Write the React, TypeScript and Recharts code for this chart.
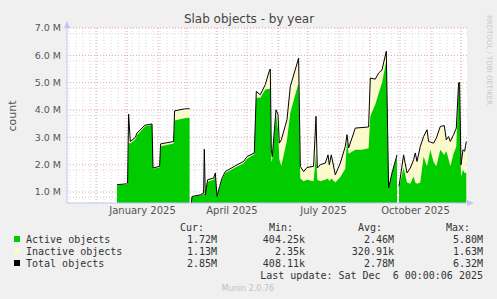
import { Area, CartesianGrid, ComposedChart, Line, XAxis, YAxis } from "recharts";

// x = days since 2 Nov 2024 (graph spans 400 days up to 6 Dec 2025); values in millions
const days = [
    50, 59.3, 60.6, 61.6, 63.3, 68.3, 70, 75, 77.6, 85, 86, 92.6, 93.6, 106.6, 107.6, 117.3, 122.6, 123.6,
    124, 125, 133.3, 136.6, 137.3, 138.3, 140.6, 146.6, 148.3, 150, 152.6, 155, 158.3, 168.3, 176.6, 180,
    187.3, 189.3, 193.3, 198.3, 202.6, 203.3, 204.3, 205.3, 209, 211, 212.3, 214.3, 220, 223.3, 231.6, 233.3,
    236.6, 240, 246.6, 249, 250.3, 253.3, 258.3, 261, 262.3, 264.3, 268.3, 273.3, 278.3, 280, 281.6, 288.3,
    295, 301.6, 303.3, 308.3, 311.6, 315, 319.3, 321.6, 325, 330, 331, 332, 336.6, 340, 343.3, 346.6, 348.3,
    350, 353.3, 356.6, 360, 361.6, 363.3, 366.6, 369.3, 373.3, 377.3, 379.3, 381.6, 383.3, 386.6, 389.3,
    391.6, 392.6, 394, 396, 397.6, 399.3,
];
const activeObjects = [
    1.25, 1.28, 1.3, 2.8, 2.78, 2.93, 3.08, 3.28, 3.4, 3.45, 1.85, 1.9, 2.68, 2.78, 3.62, 3.7, 3.72, null,
    0.44, 0.82, 0.88, 0.93, 0.95, 0.88, 1.38, 1.45, 1.6, 0.82, 1.15, 1.45, 1.7, 1.9, 2.05, 2.22,
    2.38, 4.45, 4.45, 4.75, 4.78, 4.8, 2.1, 2.2, 3.85, 3.3, 2.2, 1.95, 2.9, 3.9, 5.0, 1.5,
    1.4, 1.45, 1.4, 2.4, 1.45, 1.4, 1.45, 1.5, 1.4, 1.5, 1.35, 1.55, 1.85, 2.9, 2.4, 2.55,
    2.55, 2.6, 3.77, 4.2, 4.6, 5.0, 5.8, 1.12, 1.68, 2.3, null, 1.15, 1.9, 1.35, 1.3, 1.57, 1.35,
    1.3, 1.35, 2.3, 1.94, 2.2, 2.55, 2.1, 1.94, 2.55, 2.36, 2.5, 2.2, 1.94, 2.4, 2.67,
    4.86, 4.8, 1.57, 1.82, 1.7, 1.72,
];
const inactiveObjects = [
    0.02, 0.02, 0.03, 1.05, 0.07, 0.07, 0.08, 0.06, 0.04, 0.04, 0.03, 0.04, 0.08, 0.07, 0.35, 0.34, 0.33, null,
    0.01, 0.02, 0.02, 0.03, 1.62, 0.02, 0.07, 0.06, 0.1, 0.02, 0.05, 0.06, 0.05, 0.06, 0.07, 0.08,
    0.05, 0.23, 0.11, 0.18, 0.69, 0.7, 0.45, 0.1, 0.16, 0.53, 0.59, 0.96, 0.75, 0.96, 0.9, 0.44,
    0.35, 0.45, 0.54, 1.37, 0.43, 0.6, 0.61, 0.86, 0.6, 0.86, 0.28, 0.51, 0.82, 0.2, 0.21, 0.79,
    0.81, 0.78, 1.4, 0.93, 0.75, 0.47, 0.35, 0.03, 0.02, 0.06, null, 0.05, 0.46, 0.35, 0.58, 0.61, 1.08,
    0.82, 1.32, 0.73, 1.34, 0.65, 0.28, 0.69, 1.03, 0.85, 1.07, 0.41, 0.83, 0.91, 0.7, 0.67,
    0.13, 0.21, 0.43, 0.73, 0.79, 1.13,
];

const monthLabels = ["January 2025", "April 2025", "July 2025", "October 2025"];
const monthLabelPos = [75.5, 165, 256.5, 348.5];
const monthStarts = [29, 60, 91, 119, 150, 180, 211, 241, 272, 303, 333, 364, 394];
const yTicks = [1e6, 2e6, 3e6, 4e6, 5e6, 6e6, 7e6];

const legendRows = [
    { name: "Active objects", color: "#00cc00", cur: "1.72M", min: "404.25k", avg: "2.46M", max: "5.80M" },
    { name: "Inactive objects", color: "#fcfacc", cur: "1.13M", min: "2.35k", avg: "320.91k", max: "1.63M" },
    { name: "Total objects", color: "#000000", cur: "2.85M", min: "408.11k", avg: "2.78M", max: "6.32M" },
];

const data = days.map((day, i) => {
    const a = activeObjects[i];
    const b = inactiveObjects[i];
    return {
        day,
        active: a == null ? null : a * 1e6,
        total: a == null || b == null ? null : (a + b) * 1e6,
    };
});

const minorY: number[] = [];
for (let v = 0.8; v < 7; v += 0.2) {
    if (Math.abs(v - Math.round(v)) > 0.05) minorY.push(Math.round(v * 10) * 1e5);
}
const minorX: number[] = [];
for (let d = 2; d < 400; d += 7) minorX.push(d);

const axisColor = "#c4c4f4";
const textColor = "#555";

export default function App() {
    return (
        <div style={{ position: "fixed", left: 0, top: 0, width: 497, height: 299, background: "#f0f0f0" }}>
            <ComposedChart width={497} height={299} data={data} margin={{ top: 28, right: 30, bottom: 76, left: 7 }}>
                <CartesianGrid
                    fill="#ffffff"
                    stroke="#d8d8d8"
                    strokeDasharray="1 2"
                    horizontalValues={minorY}
                    verticalValues={minorX}
                />
                <CartesianGrid
                    stroke="#eba3a3"
                    strokeDasharray="1 2"
                    horizontalValues={yTicks}
                    verticalValues={monthStarts}
                />
                <XAxis
                    type="number"
                    dataKey="day"
                    domain={[0, 400]}
                    ticks={monthLabelPos}
                    tickFormatter={(v: number) => monthLabels[monthLabelPos.indexOf(v)] ?? ""}
                    height={20}
                    tickLine={false}
                    tickSize={0}
                    tickMargin={4}
                    axisLine={{ stroke: axisColor }}
                    tick={{ fill: textColor, fontSize: 10, fontFamily: "DejaVu Sans" }}
                    allowDataOverflow
                />
                <YAxis
                    type="number"
                    domain={[6e5, 7e6]}
                    ticks={yTicks}
                    width={60}
                    tickLine={false}
                    tickSize={0}
                    tickMargin={6}
                    axisLine={{ stroke: axisColor }}
                    tickFormatter={(v: number) => (v / 1e6).toFixed(1) + " M"}
                    tick={{ fill: textColor, fontSize: 9.5, fontFamily: "DejaVu Sans" }}
                    allowDataOverflow
                />
                <Area dataKey="total" type="linear" fill="#fcfacc" fillOpacity={1} stroke="none" isAnimationActive={false} />
                <Area dataKey="active" type="linear" fill="#00cc00" fillOpacity={1} stroke="none" isAnimationActive={false} />
                <Line dataKey="total" type="linear" stroke="#000" strokeWidth={1} dot={false} isAnimationActive={false} />
            </ComposedChart>
            <svg width={497} height={299} style={{ position: "absolute", left: 0, top: 0, pointerEvents: "none" }}>
                <polygon points="64,28 70,28 67,21" fill={axisColor} />
                <polygon points="467,200 467,206 474,203" fill={axisColor} />
                <text x={249} y={23} textAnchor="middle" fontFamily="DejaVu Sans" fontSize={12} fill="#444">
                    Slab objects - by year
                </text>
                <text x={16} y={116} textAnchor="middle" fontFamily="DejaVu Sans" fontSize={11} fill={textColor} transform="rotate(-90 16 116)">
                    count
                </text>
                <text x={487} y={60} textAnchor="middle" fontFamily="DejaVu Sans" fontSize={7} fill="#c8c8c8" transform="rotate(90 487 60)">
                    RRDTOOL / TOBI OETIKER
                </text>
                <g fontFamily="DejaVu Sans Mono" fontSize={10} fill="#333">
                    <text x={204} y={231} textAnchor="end">Cur:</text>
                    <text x={293} y={231} textAnchor="end">Min:</text>
                    <text x={382} y={231} textAnchor="end">Avg:</text>
                    <text x={470} y={231} textAnchor="end">Max:</text>
                    {legendRows.map((r, i) => (
                        <g key={r.name}>
                            <rect x={14} y={236 + i * 12} width={6} height={6} fill={r.color} />
                            <text x={26} y={243 + i * 12}>{r.name}</text>
                            <text x={217} y={243 + i * 12} textAnchor="end">{r.cur}</text>
                            <text x={305} y={243 + i * 12} textAnchor="end">{r.min}</text>
                            <text x={394} y={243 + i * 12} textAnchor="end">{r.avg}</text>
                            <text x={483} y={243 + i * 12} textAnchor="end">{r.max}</text>
                        </g>
                    ))}
                    <text x={483} y={279} textAnchor="end" style={{ whiteSpace: "pre" }}>
                        Last update: Sat Dec  6 00:00:06 2025
                    </text>
                </g>
                <text x={248} y={291} textAnchor="middle" fontFamily="DejaVu Sans" fontSize={8} fill="#c0c0c0">
                    Munin 2.0.76
                </text>
            </svg>
        </div>
    );
}
